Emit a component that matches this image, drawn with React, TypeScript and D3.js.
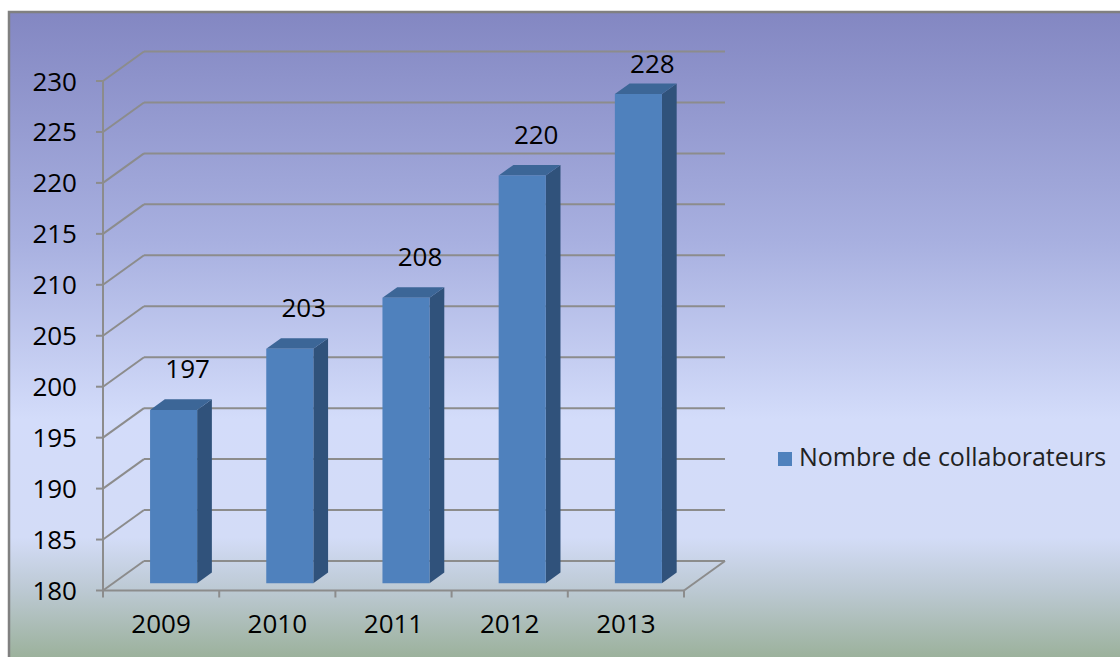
import React from "react";
import * as d3 from "d3";

const years = ["2009", "2010", "2011", "2012", "2013"];
const collaborateurs = [197, 203, 208, 220, 228];
const yTicks = [180, 185, 190, 195, 200, 205, 210, 215, 220, 225, 230];
const seriesName = "Nombre de collaborateurs";

const W = 1120;
const H = 657;
const FONT = "'Open Sans', 'Noto Sans', sans-serif";

export default function App() {
  const y = d3.scaleLinear().domain([180, 230]).range([590.5, 81]);
  const x = d3.scaleBand<string>().domain(years).range([103, 684]).padding(0);
  const bw = x.bandwidth();
  const DX = 41;
  const DY = -29.5;
  // bar placement within depth
  const fdx = DX * 0.25;
  const fdy = DY * 0.25;
  const ddx = DX * 0.36;
  const ddy = DY * 0.36;
  const barW = bw * 0.405;
  const grid = "#8c8c8c";

  return (
    <svg
      width={W}
      height={H}
      style={{ position: "absolute", left: 0, top: 0, background: "#fff" }}
      fontFamily={FONT}
    >
      <defs>
        <linearGradient id="bg" x1="0" y1="0" x2="0" y2="1">
          <stop offset="0" stopColor="#8387c2" />
          <stop offset="0.35" stopColor="#a8b0e0" />
          <stop offset="0.62" stopColor="#d3dcfa" />
          <stop offset="0.8" stopColor="#d3dcf7" />
          <stop offset="0.88" stopColor="#bcc9d3" />
          <stop offset="1" stopColor="#96ad92" />
        </linearGradient>
      </defs>
      <rect x={9} y={12} width={W} height={H} fill="url(#bg)" stroke="#808080" strokeWidth={2.5} />

      {/* back wall gridlines and left wall diagonals */}
      {yTicks.map((t) => (
        <g key={t}>
          <line x1={103} y1={y(t)} x2={103 + DX} y2={y(t) + DY} stroke={grid} strokeWidth={2} />
          <line x1={103 + DX} y1={y(t) + DY} x2={684 + DX} y2={y(t) + DY} stroke={grid} strokeWidth={2} />
          <line x1={96} y1={y(t)} x2={103} y2={y(t)} stroke={grid} strokeWidth={2} />
          <text x={77} y={y(t) + 9.5} textAnchor="end" fontSize={26} fill="#000">
            {t}
          </text>
        </g>
      ))}

      {/* floor */}
      <line x1={103} y1={y(180)} x2={684} y2={y(180)} stroke={grid} strokeWidth={2} />
      <line x1={684} y1={y(180)} x2={684 + DX} y2={y(180) + DY} stroke={grid} strokeWidth={2} />
      <line x1={103} y1={y(230)} x2={103} y2={y(180)} stroke={grid} strokeWidth={2} />
      {[...years, "end"].map((yr, i) => {
        const xx = 103 + i * bw;
        return <line key={yr} x1={xx} y1={y(180)} x2={xx} y2={y(180) + 7} stroke={grid} strokeWidth={2} />;
      })}

      {/* bars */}
      {years.map((yr, i) => {
        const v = collaborateurs[i];
        const x0 = (x(yr) as number) + bw * 0.405;
        const x1 = x0 + barW;
        const yt = y(v) + fdy;
        const yb = y(180) + fdy;
        const front = `M${x0},${yt}L${x1},${yt}L${x1},${yb}L${x0},${yb}Z`;
        const side = `M${x1},${yt}L${x1 + ddx},${yt + ddy}L${x1 + ddx},${yb + ddy}L${x1},${yb}Z`;
        const top = `M${x0},${yt}L${x0 + ddx},${yt + ddy}L${x1 + ddx},${yt + ddy}L${x1},${yt}Z`;
        const labelY = Math.max(y(v) - 39, 73);
        return (
          <g key={yr}>
            <path d={side} fill="#30527b" />
            <path d={top} fill="#3c6697" />
            <path d={front} fill="#4f81bd" />
            <text x={x0 + barW / 2 + 14} y={labelY} textAnchor="middle" fontSize={26} fill="#000">
              {v}
            </text>
            <text x={(x(yr) as number) + bw / 2} y={633} textAnchor="middle" fontSize={26} fill="#000">
              {yr}
            </text>
          </g>
        );
      })}

      {/* legend */}
      <rect x={778} y={452} width={14} height={14} fill="#4f81bd" />
      <text x={799} y={466} fontSize={25} fill="#222">
        {seriesName}
      </text>
    </svg>
  );
}
